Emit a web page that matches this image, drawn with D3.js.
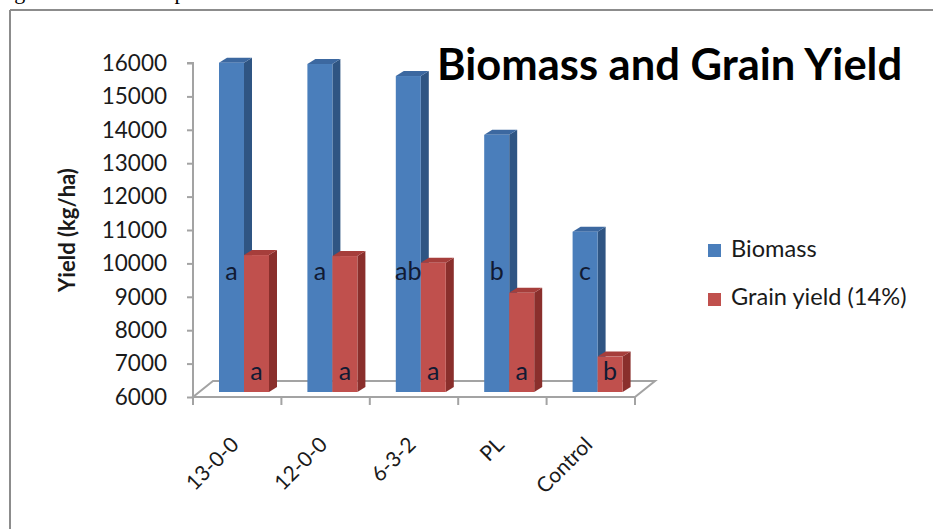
<!DOCTYPE html>
<html>
<head>
<meta charset="utf-8">
<script src="https://cdn.jsdelivr.net/npm/d3@7/dist/d3.min.js"></script>
<style>
  html, body { margin: 0; padding: 0; background: #fff; }
  svg { display: block; }
  text { font-family: Lato, "Open Sans", sans-serif; fill: #1a1a1a; }
</style>
</head>
<body>
<svg id="chart" width="933" height="529"></svg>
<script>
// Treatments on the category axis
const categories = ["13-0-0", "12-0-0", "6-3-2", "PL", "Control"];
// Series names and values (kg/ha)
const seriesNames = ["Biomass", "Grain yield (14%)"];
const biomass = [15860, 15820, 15460, 13700, 10800];
const grainYield = [10100, 10070, 9870, 8970, 7060];
// Mean-separation letters shown on the bars
const biomassLetters = ["a", "a", "ab", "b", "c"];
const grainLetters = ["a", "a", "a", "a", "b"];
// Value-axis ticks
const yTicks = [6000, 7000, 8000, 9000, 10000, 11000, 12000, 13000, 14000, 15000, 16000];

const series = [biomass, grainYield];
const palette = [
  { front: "#4a7ebb", side: "#2f5583", top: "#3c68a0" },
  { front: "#c0504d", side: "#8a2f2c", top: "#a63e3b" }
];

const svg = d3.select("#chart");

// Frame edges
svg.append("line").attr("x1", 10).attr("y1", 10).attr("x2", 933).attr("y2", 10)
  .attr("stroke", "#8c8c8c").attr("stroke-width", 2);
svg.append("line").attr("x1", 10).attr("y1", 10).attr("x2", 10).attr("y2", 529)
  .attr("stroke", "#8c8c8c").attr("stroke-width", 2);

// Caption line above the frame (only its lowest strokes fall inside the page)
svg.append("text").attr("x", -4).attr("y", -1)
  .style("font-family", "'Liberation Serif', serif").style("font-size", "22px").style("fill", "#000")
  .text("Figure 4. Mean comparison");

// Scales
const x = d3.scaleBand().domain(categories).range([193, 635]);
const sub = d3.scaleBand().domain(d3.range(series.length)).range([20, 70]);
const y = d3.scaleLinear().domain([6000, 16000]).range([397, 63]);

// 3D offsets: floor depth and bar placement within the depth
const floorDx = 20, floorDy = -16;
const barShiftX = 6, barShiftY = -5;
const depthX = 8, depthY = -5;
const axisColor = "#a3a3a3";

// Floor outline
const y0 = y(6000);
const floor = [
  [x.range()[0], y0], [x.range()[1], y0],
  [x.range()[1] + floorDx, y0 + floorDy], [x.range()[0] + floorDx, y0 + floorDy]
];
svg.append("polygon")
  .attr("points", floor.map(p => p.join(",")).join(" "))
  .attr("fill", "none").attr("stroke", axisColor).attr("stroke-width", 2);

// Category ticks along the front edge
const boundaries = categories.map(c => x(c)).concat([x.range()[1]]);
svg.append("g").selectAll("line").data(boundaries).join("line")
  .attr("x1", d => d).attr("x2", d => d)
  .attr("y1", y0).attr("y2", y0 + 8)
  .attr("stroke", axisColor).attr("stroke-width", 2);

// Value axis
const yAxis = d3.axisLeft(y).tickValues(yTicks).tickSize(6).tickPadding(20)
  .tickFormat(d3.format("d"));
const gy = svg.append("g").attr("transform", `translate(${x.range()[0]},0)`).call(yAxis);
gy.select(".domain").attr("stroke", axisColor).attr("stroke-width", 2)
  .attr("d", `M-6,${y(16000)}H0V${y0}`);
gy.selectAll(".tick line").attr("stroke", axisColor).attr("stroke-width", 2);
gy.selectAll(".tick text").style("font-size", "22.5px").style("fill", "#1a1a1a")
  .style("font-family", "Lato, sans-serif");

// Axis title
svg.append("text")
  .attr("transform", "translate(75,230) rotate(-90)")
  .attr("text-anchor", "middle")
  .style("font-size", "22px").style("font-weight", "bold")
  .text("Yield (kg/ha)");

// Bars, drawn left to right so nearer faces overlap correctly
const bars = [];
categories.forEach((c, ci) => {
  series.forEach((vals, si) => {
    bars.push({ c, ci, si, v: vals[ci] });
  });
});

const gb = svg.append("g");
bars.forEach(b => {
  const bx = x(b.c) + sub(b.si) + barShiftX;
  const w = sub.bandwidth();
  const yt = y(b.v) + barShiftY;
  const yb = y0 + barShiftY;
  const col = palette[b.si];
  const g = gb.append("g");
  g.append("polygon")
    .attr("points", [[bx + w, yt], [bx + w + depthX, yt + depthY], [bx + w + depthX, yb + depthY], [bx + w, yb]]
      .map(p => p.join(",")).join(" "))
    .attr("fill", col.side);
  g.append("polygon")
    .attr("points", [[bx, yt], [bx + depthX, yt + depthY], [bx + w + depthX, yt + depthY], [bx + w, yt]]
      .map(p => p.join(",")).join(" "))
    .attr("fill", col.top);
  g.append("rect").attr("x", bx).attr("y", yt).attr("width", w).attr("height", yb - yt)
    .attr("fill", col.front);
});

// Letters on the bars
const letterSets = [biomassLetters, grainLetters];
const letterLevels = [9500, 6500];
letterSets.forEach((letters, si) => {
  svg.append("g").selectAll("text").data(letters).join("text")
    .attr("x", (d, i) => x(categories[i]) + sub(si) + barShiftX + sub.bandwidth() / 2)
    .attr("y", y(letterLevels[si]))
    .attr("text-anchor", "middle")
    .style("font-size", "25px").style("fill", "#111a33")
    .text(d => d);
});

// Category labels, rotated
svg.append("g").selectAll("text").data(categories).join("text")
  .attr("transform", c => `translate(${x(c) + x.bandwidth() / 2 + 3},446) rotate(-45)`)
  .attr("text-anchor", "end")
  .style("font-size", "21px")
  .text(d => d);

// Title
svg.append("text").attr("x", 437).attr("y", 80)
  .style("font-size", "43.5px").style("font-weight", "bold").style("fill", "#000")
  .text("Biomass and Grain Yield");

// Legend
const lg = svg.append("g");
seriesNames.forEach((name, i) => {
  lg.append("rect").attr("x", 708).attr("y", 244 + i * 49).attr("width", 13).attr("height", 13)
    .attr("fill", palette[i].front);
  lg.append("text").attr("x", 731).attr("y", 257 + i * 48)
    .style("font-size", "23.6px").text(name);
});
</script>
</body>
</html>
